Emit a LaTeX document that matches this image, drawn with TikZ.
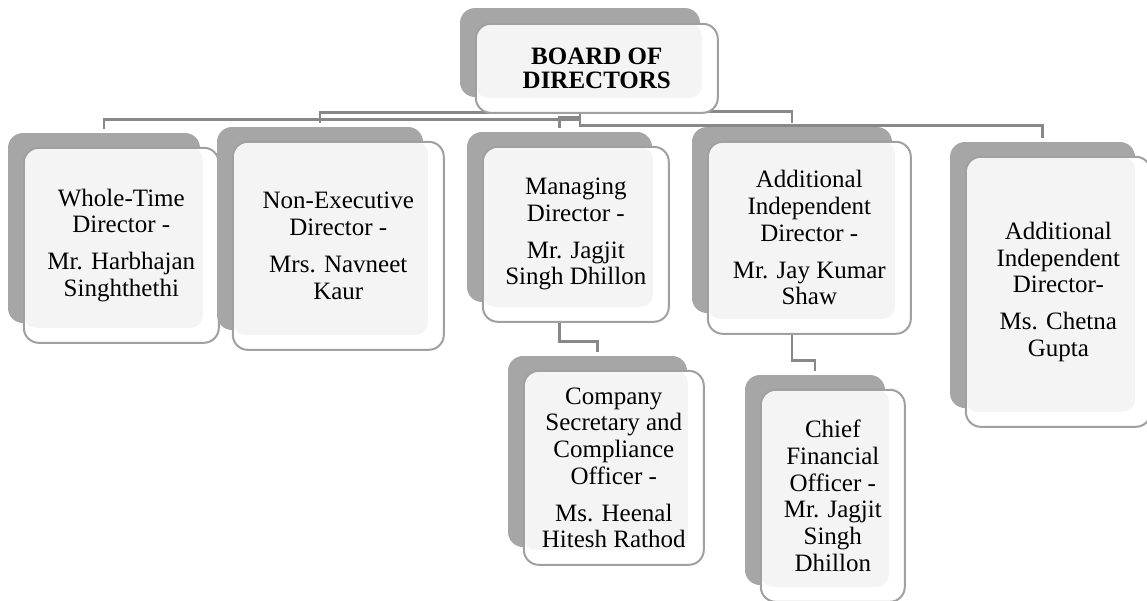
\documentclass[tikz,border=0pt]{standalone}
\usepackage{fontspec}
\setmainfont{Liberation Serif}
\usetikzlibrary{positioning, backgrounds}
\definecolor{shade}{HTML}{A6A6A6}
\definecolor{panel}{HTML}{F4F4F4}
\definecolor{rim}{HTML}{A0A0A0}
\definecolor{wire}{HTML}{888888}

\begin{document}
\begin{tikzpicture}
    [
        x=1pt, y=-1pt,
        back/.style 2 args={rectangle, rounded corners=15pt, fill=shade,
                      minimum width=#1, minimum height=#2, inner sep=0pt},
        card/.style 2 args={rectangle, rounded corners=15pt, draw=rim,
                      line width=2pt, fill=white, inner sep=0pt,
                      minimum width=#1, minimum height=#2, align=center,
                      font=\fontsize{25}{26.7}\selectfont,
                      path picture={\fill[panel, rounded corners=12pt]
                          (path picture bounding box.north west) rectangle
                          ([xshift=-16pt, yshift=15pt]path picture bounding box.south east);}},
        link/.style={draw=wire, line width=2.7pt, shorten >=3.5pt}
    ]
    \useasboundingbox (0,0) rectangle (1147,600);
    \node (board) [back={240pt}{89pt}] at (580,52.5) {};
    \node (boardF) [card={242pt}{89pt}, below right=15pt and 15pt of board.north west,
                    font=\fontsize{25}{23.5}\selectfont\bfseries] {BOARD OF\\DIRECTORS};
    \node (wtd) [back={192pt}{190pt}] at (104,228) {};
    \node (wtdF) [card={195pt}{195pt}, below right=14pt and 15pt of wtd.north west]
        {Whole-Time\\Director -\\[10pt]Mr. Harbhajan\\Singhthethi};
    \node (ned) [back={206pt}{203pt}] at (320,228.5) {};
    \node (nedF) [card={211pt}{208pt}, below right=14pt and 15pt of ned.north west]
        {Non-Executive\\Director -\\[10pt]Mrs. Navneet\\Kaur};
    \node (md) [back={185pt}{170pt}] at (559.5,217) {};
    \node (mdF) [card={186pt}{175pt}, below right=14pt and 15pt of md.north west]
        {Managing\\Director -\\[10pt]Mr. Jagjit\\Singh Dhillon};
    \node (aid) [back={200pt}{186pt}] at (792,220) {};
    \node (aidF) [card={203pt}{192pt}, below right=14pt and 15pt of aid.north west]
        {Additional\\Independent\\Director -\\[10pt]Mr. Jay Kumar\\Shaw};
    \node (aidb) [back={185pt}{266pt}] at (1042.5,275) {};
    \node (aidbF) [card={185pt}{270pt}, below right=14pt and 15pt of aidb.north west]
        {Additional\\Independent\\Director-\\[10pt]Ms. Chetna\\Gupta};
    \node (cs) [back={179pt}{191pt}] at (597.5,451.5) {};
    \node (csF) [card={180pt}{194pt}, below right=14pt and 15pt of cs.north west]
        {Company\\Secretary and\\Compliance\\Officer -\\[10pt]Ms. Heenal\\Hitesh Rathod};
    \node (cfo) [back={140pt}{210pt}] at (815,480) {};
    \node (cfoF) [card={144pt}{212pt}, below right=14pt and 15pt of cfo.north west]
        {Chief\\Financial\\Officer -\\Mr. Jagjit\\Singh\\Dhillon};
    \begin{scope}[on background layer]
        \draw[link] (board.south) -- ++(0,22) -| (wtd.north);
        \draw[link] (board.south) -- ++(0,15) -| (ned.north);
        \draw[link] (board.south) -- ++(0,20) -| (md.north);
        \draw[link] (board.south) -- ++(0,14) -| (aid.north);
        \draw[link] (board.south) -- ++(0,28) -| (aidb.north);
        \draw[link] (md.south) -- ++(0,39) -| (cs.north);
        \draw[link] (aid.south) -- ++(0,47) -| (cfo.north);
    \end{scope}
\end{tikzpicture}
\end{document}
